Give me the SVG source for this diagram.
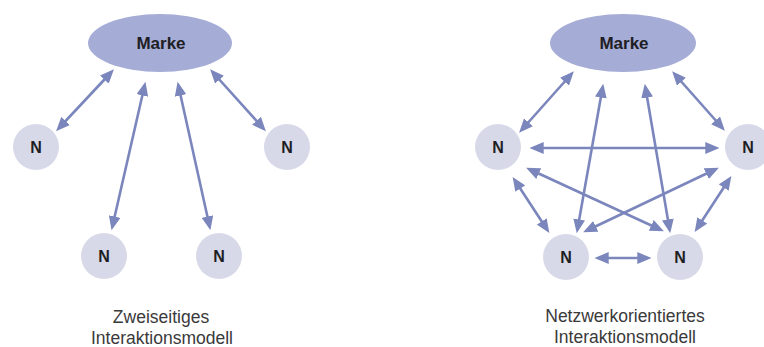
<svg xmlns="http://www.w3.org/2000/svg" width="764" height="347" viewBox="0 0 764 347">
<style>
.brand{fill:#a5acd6}
.node{fill:#d7d9e9}
.lbl{font-family:"Liberation Sans",Arial,sans-serif;font-weight:bold;fill:#1e1e24;text-anchor:middle}
.cap{font-family:"Liberation Sans",Arial,sans-serif;font-size:17.5px;fill:#3a3a3a;text-anchor:middle}
.ed{stroke:#7b86bd;stroke-width:2.6;fill:none;marker-start:url(#ah);marker-end:url(#ah)}
</style>
<defs>
<marker id="ah" markerUnits="userSpaceOnUse" markerWidth="14" markerHeight="12" refX="9" refY="5.5" orient="auto-start-reverse" viewBox="0 0 13 11">
<path d="M0,0 L13,5.5 L0,11 Z" fill="#7b86bd"/>
</marker>
</defs>
<rect width="764" height="347" fill="#ffffff"/>
<g id="connectors">
<line class="ed" x1="111" y1="72.5" x2="59" y2="128"/>
<line class="ed" x1="144.5" y1="86" x2="112.5" y2="226"/>
<line class="ed" x1="178.5" y1="86" x2="209.5" y2="226"/>
<line class="ed" x1="213" y1="72.5" x2="263" y2="128"/>
<line class="ed" x1="571" y1="74.5" x2="522" y2="129.5"/>
<line class="ed" x1="602.5" y1="88" x2="577.5" y2="229"/>
<line class="ed" x1="645.5" y1="88" x2="669.5" y2="229"/>
<line class="ed" x1="675" y1="74.5" x2="722" y2="127.5"/>
<line class="ed" x1="534" y1="148" x2="715" y2="148"/>
<line class="ed" x1="530" y1="169.5" x2="660" y2="229.5"/>
<line class="ed" x1="715" y1="169.5" x2="587" y2="230.5"/>
<line class="ed" x1="515" y1="180.5" x2="547" y2="229.5"/>
<line class="ed" x1="729" y1="179.5" x2="697" y2="228.5"/>
<line class="ed" x1="599" y1="258" x2="647" y2="258"/>
</g>
<g id="marke-left"><ellipse class="brand" cx="160" cy="43" rx="72" ry="29"/><text class="lbl" x="161" y="49" font-size="17">Marke</text></g>
<g id="n-left-1"><circle class="node" cx="36" cy="147" r="23"/><text class="lbl" x="36" y="153" font-size="16">N</text></g>
<g id="n-left-2"><circle class="node" cx="287" cy="147" r="23"/><text class="lbl" x="287" y="153" font-size="16">N</text></g>
<g id="n-left-3"><circle class="node" cx="104" cy="256" r="23"/><text class="lbl" x="104" y="262" font-size="16">N</text></g>
<g id="n-left-4"><circle class="node" cx="219" cy="256" r="23"/><text class="lbl" x="219" y="262" font-size="16">N</text></g>
<g id="caption-left"><text class="cap" x="161" y="323">Zweiseitiges</text><text class="cap" x="162" y="344">Interaktionsmodell</text></g>
<g id="marke-right"><ellipse class="brand" cx="623" cy="43" rx="73" ry="29"/><text class="lbl" x="624" y="49" font-size="17">Marke</text></g>
<g id="n-right-1"><circle class="node" cx="498" cy="147" r="23"/><text class="lbl" x="498" y="153" font-size="16">N</text></g>
<g id="n-right-2"><circle class="node" cx="748" cy="147" r="23"/><text class="lbl" x="748" y="153" font-size="16">N</text></g>
<g id="n-right-3"><circle class="node" cx="566" cy="257" r="23"/><text class="lbl" x="566" y="263" font-size="16">N</text></g>
<g id="n-right-4"><circle class="node" cx="680" cy="257" r="23"/><text class="lbl" x="680" y="263" font-size="16">N</text></g>
<g id="caption-right"><text class="cap" x="625" y="322">Netzwerkorientiertes</text><text class="cap" x="625" y="343">Interaktionsmodell</text></g>
</svg>
